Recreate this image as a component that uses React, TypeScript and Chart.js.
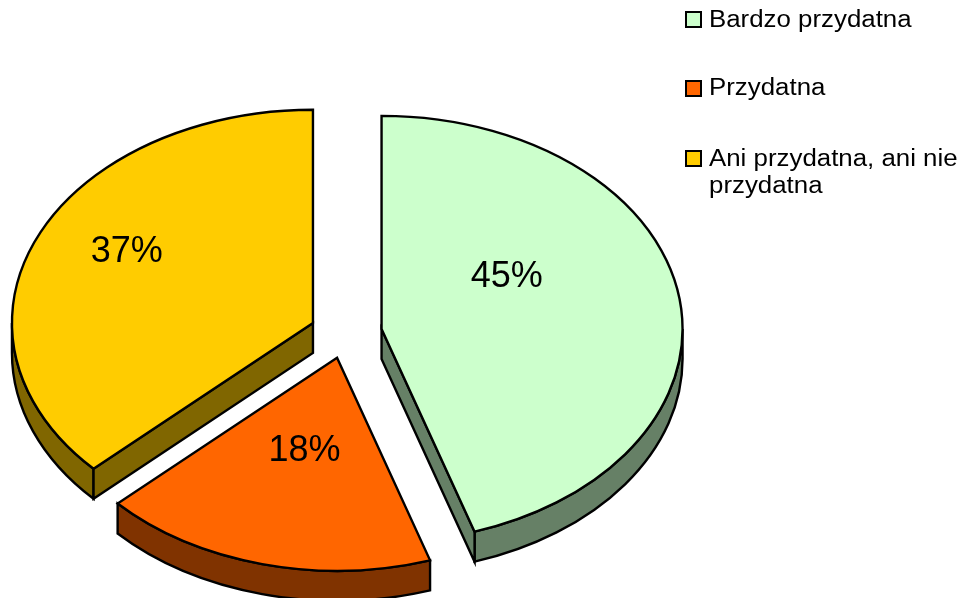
import React, { useEffect, useRef } from "react";
import { Chart, registerables } from "chart.js";

Chart.register(...registerables);

// ---- data ----
const categories = ["Bardzo przydatna", "Przydatna", "Ani przydatna, ani nie przydatna"];
const legendLines = [["Bardzo przydatna"], ["Przydatna"], ["Ani przydatna, ani nie", "przydatna"]];
const values = [45, 18, 37];

// ---- styles ----
const topColors = ["#CCFFCC", "#FF6600", "#FFCC00"];
const sideColors = ["#668066", "#803300", "#806600"];
const FONT = "'Liberation Sans', Arial, Helvetica, sans-serif";

// ---- layout of the tilted pie (projected pixels) ----
const CX = 346;
const CY = 333;
const R = 301;
const TILT = 0.708;
const DEPTH = 30;
const EXPLODE = 36;
// label anchor per slice: angle shift from the slice mid angle (deg), radius fraction
const LABEL_ANCHORS = [
  { dAngle: -22.9, r: 0.49 },
  { dAngle: -0.2, r: 0.44 },
  { dAngle: 5.9, r: 0.709 },
];
const LABEL_SIZE = 36;
const LEGEND_TOPS = [6, 74.4, 145];

const pie3d = {
  id: "pie3d",
  beforeDatasetDraw() {
    return false;
  },
  afterDatasetsDraw(chart: any) {
    const ctx: CanvasRenderingContext2D = chart.ctx;
    const meta = chart.getDatasetMeta(0);
    const ds = chart.data.datasets[0];
    const total = (ds.data as number[]).reduce((s, v) => s + v, 0);
    const ry = R * TILT;

    const slices = meta.data.map((a: any, i: number) => {
      const p = a.getProps(["x", "y", "startAngle", "endAngle", "outerRadius"], true);
      const mid = (p.startAngle + p.endAngle) / 2;
      const cx = CX + Math.cos(mid) * EXPLODE;
      const cy = CY + Math.sin(mid) * EXPLODE * TILT;
      return { a, p, i, mid, cx, cy };
    });

    const order = [...slices].sort((u, v) => Math.sin(u.mid) - Math.sin(v.mid));

    ctx.save();
    ctx.lineWidth = 2.4;
    ctx.lineJoin = "miter";
    ctx.miterLimit = 10;
    ctx.strokeStyle = "#000";

    // side walls
    for (const s of order) {
      const { cx, cy } = s;
      const a1 = s.p.startAngle;
      const a2 = s.p.endAngle;
      const paths: Path2D[] = [];
      const lo = Math.max(a1, 0);
      const hi = Math.min(a2, Math.PI);
      if (hi > lo) {
        const p = new Path2D();
        p.ellipse(cx, cy, R, ry, 0, lo, hi);
        p.lineTo(cx + R * Math.cos(hi), cy + ry * Math.sin(hi) + DEPTH);
        p.ellipse(cx, cy + DEPTH, R, ry, 0, hi, lo, true);
        p.closePath();
        paths.push(p);
      }
      const wall = (ang: number) => {
        const p = new Path2D();
        const ex = cx + R * Math.cos(ang);
        const ey = cy + ry * Math.sin(ang);
        p.moveTo(cx, cy);
        p.lineTo(ex, ey);
        p.lineTo(ex, ey + DEPTH);
        p.lineTo(cx, cy + DEPTH);
        p.closePath();
        return p;
      };
      if (Math.cos(a1) < -1e-6) paths.push(wall(a1));
      if (Math.cos(a2) > 1e-6) paths.push(wall(a2));
      ctx.fillStyle = sideColors[s.i];
      for (const p of paths) {
        ctx.fill(p);
        ctx.stroke(p);
      }
    }

    // top faces drawn by Chart.js arc elements, projected onto the tilted plane
    for (const s of order) {
      const sc = R / s.p.outerRadius;
      ctx.save();
      ctx.translate(s.cx, s.cy);
      ctx.scale(sc, sc * TILT);
      ctx.translate(-s.p.x, -s.p.y);
      s.a.draw(ctx);
      ctx.restore();
      const p = new Path2D();
      p.moveTo(s.cx, s.cy);
      p.ellipse(s.cx, s.cy, R, ry, 0, s.p.startAngle, s.p.endAngle);
      p.closePath();
      ctx.stroke(p);
    }

    // value labels
    ctx.fillStyle = "#000";
    ctx.font = `${LABEL_SIZE}px ${FONT}`;
    ctx.textAlign = "center";
    ctx.textBaseline = "alphabetic";
    for (const s of slices) {
      const anc = LABEL_ANCHORS[s.i];
      const ang = s.mid + (anc.dAngle * Math.PI) / 180;
      const lx = s.cx + Math.cos(ang) * R * anc.r;
      const ly = s.cy + Math.sin(ang) * ry * anc.r;
      const v = (ds.data as number[])[s.i];
      const txt = Math.round((v / total) * 100) + "%";
      ctx.fillText(txt, lx, ly + LABEL_SIZE * 0.358);
    }
    ctx.restore();
  },
};

export default function App() {
  const ref = useRef<HTMLCanvasElement>(null);

  useEffect(() => {
    const chart = new Chart(ref.current as HTMLCanvasElement, {
      type: "pie",
      data: {
        labels: categories,
        datasets: [
          {
            data: values,
            backgroundColor: topColors,
            borderWidth: 0,
            offset: 0,
            clip: false,
          } as any,
        ],
      },
      options: {
        animation: false,
        responsive: true,
        maintainAspectRatio: false,
        events: [],
        plugins: {
          legend: { display: false },
          tooltip: { enabled: false },
        },
      } as any,
      plugins: [pie3d as any],
    });
    return () => chart.destroy();
  }, []);

  return (
    <div
      style={{
        position: "fixed",
        left: 0,
        top: 0,
        width: 966,
        height: 598,
        background: "#fff",
        overflow: "hidden",
      }}
    >
      <div style={{ position: "absolute", left: 0, top: 0, width: 966, height: 598 }}>
        <canvas ref={ref} />
      </div>
      {categories.map((c, i) => (
        <div key={c} style={{ position: "absolute", left: 0, top: LEGEND_TOPS[i] }}>
          <div
            style={{
              position: "absolute",
              left: 685,
              top: 5.4,
              width: 13,
              height: 13,
              border: "2.5px solid #000",
              background: topColors[i],
            }}
          />
          <div
            style={{
              position: "absolute",
              left: 709,
              top: 0,
              fontFamily: FONT,
              fontSize: 23.5,
              lineHeight: "27px",
              color: "#000",
              whiteSpace: "nowrap",
              transform: "scaleX(1.1)",
              transformOrigin: "left top",
            }}
          >
            {legendLines[i].map((l, j) => (
              <div key={j}>{l}</div>
            ))}
          </div>
        </div>
      ))}
    </div>
  );
}
